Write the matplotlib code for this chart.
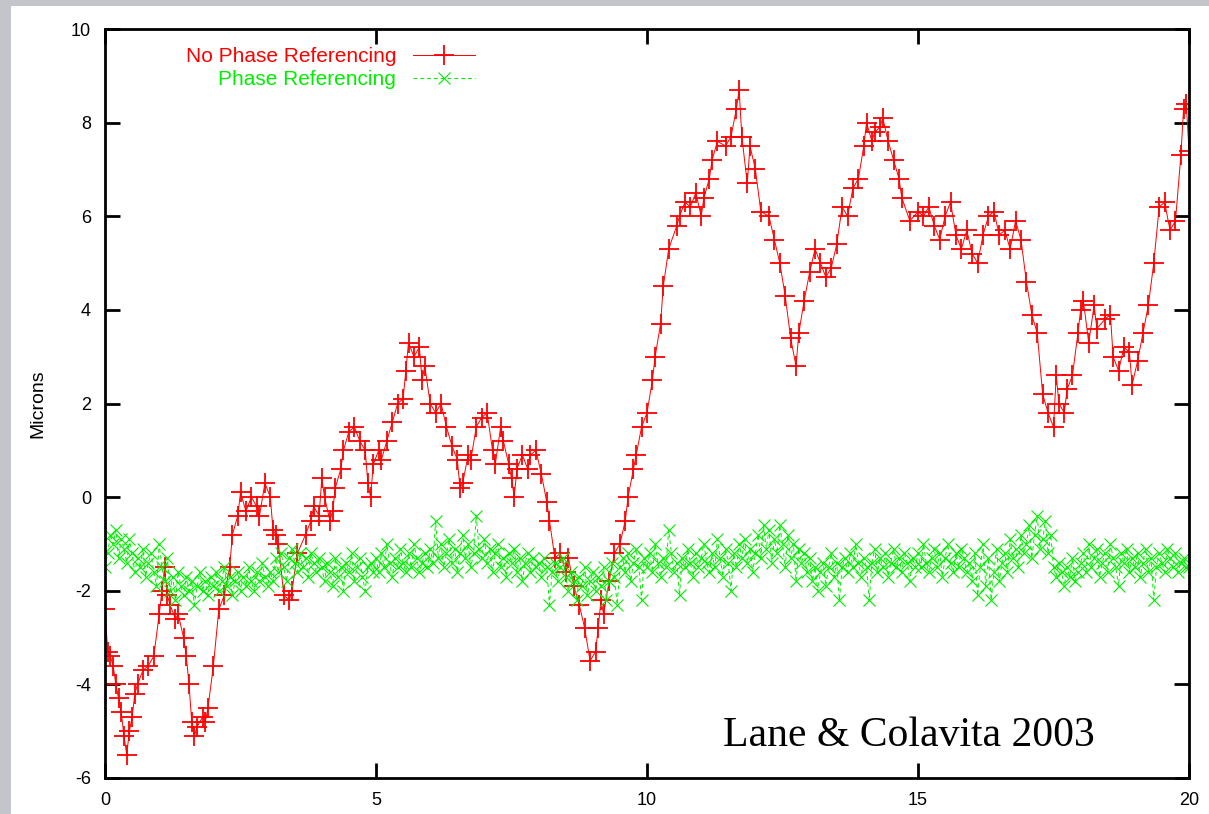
import matplotlib.pyplot as plt
import numpy as np
from matplotlib.patches import Rectangle

plt.rcParams['font.family'] = ['Liberation Sans Narrow', 'Liberation Sans', 'DejaVu Sans']
plt.rcParams['axes.unicode_minus'] = False

# red: no phase referencing (time, microns)
red_t = [0.0, 0.05, 0.1, 0.15, 0.2, 0.25, 0.3, 0.35, 0.4, 0.45, 0.5, 0.55, 0.6, 0.7, 0.8, 0.9,
         1.0, 1.05, 1.1, 1.15, 1.2, 1.3, 1.35, 1.45, 1.5, 1.55, 1.6, 1.65, 1.7, 1.8, 1.85, 1.9,
         2.0, 2.1, 2.2, 2.3, 2.35, 2.45, 2.5, 2.6, 2.7, 2.8, 2.85, 2.95, 3.05, 3.1, 3.15, 3.2,
         3.3, 3.4, 3.45, 3.55, 3.7, 3.8, 3.85, 3.95, 4.0, 4.05, 4.15, 4.2, 4.25, 4.35, 4.4, 4.5,
         4.6, 4.7, 4.8, 4.85, 4.9, 4.95, 5.05, 5.1, 5.2, 5.3, 5.4, 5.5, 5.55, 5.6, 5.7, 5.8,
         5.85, 5.9, 6.0, 6.1, 6.2, 6.3, 6.4, 6.5, 6.55, 6.6, 6.7, 6.75, 6.85, 6.95, 7.05, 7.15,
         7.2, 7.3, 7.35, 7.45, 7.5, 7.55, 7.6, 7.7, 7.8, 7.85, 7.95, 8.05, 8.15, 8.2, 8.3, 8.4,
         8.5, 8.55, 8.65, 8.75, 8.85, 8.95, 9.05, 9.1, 9.15, 9.2, 9.3, 9.4, 9.5, 9.6, 9.65, 9.75,
         9.8, 9.9, 10.0, 10.1, 10.15, 10.25, 10.3, 10.4, 10.55, 10.6, 10.7, 10.8, 10.9, 11.0, 11.05, 11.15,
         11.2, 11.3, 11.45, 11.55, 11.65, 11.7, 11.75, 11.85, 11.9, 12.0, 12.1, 12.25, 12.35, 12.45, 12.55, 12.65,
         12.75, 12.8, 12.9, 13.0, 13.1, 13.2, 13.3, 13.4, 13.5, 13.6, 13.7, 13.8, 13.9, 14.0, 14.05, 14.15,
         14.2, 14.3, 14.35, 14.45, 14.55, 14.65, 14.7, 14.85, 15.0, 15.1, 15.2, 15.3, 15.4, 15.5, 15.6, 15.7,
         15.8, 15.9, 16.0, 16.1, 16.2, 16.3, 16.4, 16.5, 16.6, 16.7, 16.8, 16.9, 17.0, 17.1, 17.2, 17.3,
         17.4, 17.5, 17.55, 17.6, 17.7, 17.75, 17.85, 17.95, 18.0, 18.05, 18.15, 18.25, 18.3, 18.45, 18.55, 18.6,
         18.7, 18.8, 18.9, 18.95, 19.05, 19.15, 19.25, 19.35, 19.45, 19.55, 19.65, 19.75, 19.85, 19.9, 19.95, 20.0]
red_y = [-2.4, -3.3, -3.4, -3.6, -4.0, -4.3, -4.6, -5.1, -5.5, -5.0, -4.7, -4.2, -4.0, -3.7, -3.6, -3.4,
         -2.5, -2.0, -1.5, -2.1, -2.3, -2.6, -2.5, -3.0, -3.4, -4.0, -4.8, -5.1, -4.9, -4.7, -4.8, -4.5,
         -3.6, -2.4, -2.1, -1.5, -0.8, -0.4, 0.1, -0.3, 0.0, -0.2, -0.4, 0.3, 0.0, -0.7, -0.8, -1.0,
         -2.1, -2.2, -2.0, -1.2, -0.8, -0.5, -0.2, -0.4, 0.4, 0.0, -0.5, -0.3, 0.2, 0.6, 1.0, 1.4,
         1.5, 1.2, 1.0, 0.3, 0.0, 0.7, 1.0, 0.8, 1.2, 1.6, 2.0, 2.1, 2.7, 3.3, 3.0, 3.2,
         2.5, 2.8, 2.0, 1.8, 2.0, 1.5, 1.1, 0.8, 0.2, 0.3, 0.9, 0.8, 1.5, 1.7, 1.8, 1.0,
         0.7, 1.5, 1.2, 0.7, 0.4, 0.0, 0.6, 0.9, 0.6, 0.9, 1.0, 0.5, -0.1, -0.5, -1.3, -1.2,
         -1.6, -1.3, -1.9, -2.3, -2.8, -3.5, -3.3, -2.8, -2.2, -2.5, -1.8, -1.2, -1.0, -0.5, 0.0, 0.6,
         0.9, 1.5, 1.8, 2.5, 3.0, 3.7, 4.5, 5.3, 5.8, 6.0, 6.3, 6.2, 6.5, 6.0, 6.4, 6.8,
         7.2, 7.6, 7.5, 7.7, 8.3, 8.7, 7.7, 6.7, 7.5, 7.0, 6.1, 6.0, 5.5, 5.0, 4.3, 3.4,
         2.8, 3.5, 4.2, 4.8, 5.3, 5.0, 4.7, 4.9, 5.4, 6.2, 6.0, 6.6, 6.8, 7.5, 8.0, 7.6,
         7.8, 7.9, 8.1, 7.6, 7.2, 6.8, 6.4, 5.9, 6.1, 6.0, 6.2, 5.8, 5.5, 6.0, 6.3, 5.6,
         5.3, 5.7, 5.2, 5.0, 5.6, 6.0, 6.1, 5.6, 5.7, 5.3, 5.9, 5.5, 4.6, 3.9, 3.5, 2.2,
         1.8, 1.5, 2.6, 2.0, 1.8, 2.3, 2.6, 3.5, 4.0, 4.2, 3.3, 4.1, 3.6, 3.8, 3.9, 3.0,
         2.7, 3.2, 3.1, 2.4, 2.9, 3.5, 4.1, 5.0, 6.2, 6.3, 5.7, 5.9, 7.3, 8.3, 8.4, 7.4]

# green: phase referencing, sampled every 0.05
green_y = [
    -1.5, -1.2, -0.8, -1.0, -0.7, -1.3, -0.9, -1.1, -1.4, -0.9, -1.2, -1.6, -1.3, -1.5, -1.1, -1.7, -1.4, -1.2, -1.6, -1.9,
    -1.0, -1.5, -1.8, -1.3, -2.0, -1.7, -2.2, -1.6, -1.9, -2.1, -1.7, -2.0, -1.8, -2.3, -1.9, -1.6, -2.0, -1.8, -2.1, -1.7,
    -1.9, -1.6, -2.0, -1.8, -1.5, -1.9, -1.7, -2.1, -1.8, -1.6, -2.0, -1.7, -1.9, -1.5, -1.8, -2.0, -1.6, -1.8, -1.4, -1.7,
    -1.9, -1.6, -1.8, -1.3, -1.6, -1.2, -1.5, -1.8, -1.3, -1.1, -1.4, -1.6, -1.2, -1.5, -1.3, -1.7, -1.2, -1.4, -1.6, -1.3,
    -1.5, -1.8, -1.4, -1.6, -1.9, -1.3, -1.7, -1.5, -2.0, -1.4, -1.6, -1.2, -1.8, -1.5, -1.3, -1.7, -2.0, -1.5, -1.4, -1.6,
    -1.3, -1.6, -1.2, -1.5, -1.0, -1.4, -1.7, -1.3, -1.5, -1.1, -1.4, -1.6, -1.2, -1.5, -1.0, -1.3, -1.6, -1.4, -1.2, -1.5,
    -1.1, -1.4, -0.5, -1.3, -1.0, -1.5, -1.2, -0.9, -1.4, -1.1, -1.6, -1.2, -0.8, -1.3, -1.0, -1.5, -1.2, -0.4, -1.1, -1.3,
    -0.9, -1.4, -1.1, -1.6, -1.2, -1.0, -1.5, -1.3, -1.7, -1.2, -1.4, -1.1, -1.6, -1.3, -1.8, -1.4, -1.2, -1.6, -1.3, -1.5,
    -1.4, -1.7, -1.3, -1.5, -2.3, -1.6, -1.4, -1.8, -1.5, -1.3, -1.7, -2.0, -1.6, -1.8, -2.2, -1.7, -1.9, -1.5, -2.1, -1.8,
    -1.6, -2.0, -1.7, -1.9, -1.5, -2.2, -1.8, -1.4, -1.7, -2.3, -1.5, -1.3, -1.6, -1.2, -1.8, -1.4, -1.1, -1.5, -2.2, -1.3,
    -1.5, -1.2, -1.6, -1.0, -1.4, -1.7, -1.3, -1.5, -0.7, -1.2, -1.6, -1.4, -2.1, -1.3, -1.5, -1.1, -1.4, -1.7, -1.2, -1.5,
    -1.3, -1.0, -1.4, -1.6, -1.2, -1.5, -0.9, -1.3, -1.7, -1.1, -1.4, -2.0, -1.2, -1.5, -1.0, -1.3, -0.9, -1.4, -1.1, -1.6,
    -1.2, -0.8, -1.3, -0.6, -1.1, -0.7, -1.4, -0.9, -1.2, -0.6, -1.0, -1.5, -0.8, -1.3, -1.0, -1.8, -1.1, -1.4, -1.2, -1.6,
    -1.3, -1.8, -1.5, -2.0, -1.6, -1.4, -1.9, -1.5, -1.2, -1.7, -1.4, -2.2, -1.5, -1.3, -1.6, -1.2, -1.5, -1.0, -1.4, -1.7,
    -1.3, -1.5, -2.2, -1.4, -1.1, -1.6, -1.3, -1.5, -1.2, -1.7, -1.4, -1.1, -1.5, -1.3, -1.6, -1.2, -1.4, -1.8, -1.3, -1.5,
    -1.2, -1.5, -1.0, -1.4, -1.6, -1.3, -1.1, -1.5, -1.2, -1.7, -1.3, -1.0, -1.4, -1.6, -1.2, -1.5, -1.1, -1.3, -1.6, -1.4,
    -1.8, -1.2, -2.1, -1.5, -1.0, -1.9, -1.3, -2.2, -1.6, -1.1, -1.8, -1.4, -1.2, -1.6, -0.9, -1.3, -1.1, -1.5, -0.8, -1.2,
    -1.0, -0.6, -1.3, -0.8, -0.4, -1.1, -0.9, -0.5, -1.2, -0.8, -1.5, -1.7, -1.4, -1.6, -1.9, -1.5, -1.7, -1.3, -1.8, -1.6,
    -1.4, -1.2, -1.6, -1.0, -1.5, -1.3, -1.1, -1.7, -1.4, -1.2, -1.6, -1.0, -1.3, -1.5, -1.9, -1.2, -1.4, -1.1, -1.6, -1.3,
    -1.5, -1.2, -1.7, -1.4, -1.1, -1.6, -1.3, -2.2, -1.5, -1.2, -1.4, -1.6, -1.1, -1.3, -1.5, -1.2, -1.6, -1.4, -1.3, -1.5,
    -1.5]
green_t = np.linspace(0, 20, len(green_y))

fig = plt.figure(figsize=(12.09, 8.14), dpi=100, facecolor='#c3c5cb')
fig.patches.append(Rectangle((11 / 1209, 0), 1, 1 - 6 / 814, transform=fig.transFigure,
                             facecolor='white', edgecolor='none', zorder=-10))
ax = fig.add_axes([105 / 1209, 1 - 778 / 814, 1084 / 1209, 749 / 814])

ax.plot(red_t, red_y, color='#ff0000', lw=0.7, marker='+', ms=14, mew=1.3,
        label='No Phase Referencing')
ax.plot(green_t, green_y, color='#00ee00', lw=0.7, ls=(0, (4, 3)), marker='x', ms=8, mew=0.8,
        label='Phase Referencing')

ax.set_xlim(0, 20)
ax.set_ylim(-6, 10)
ax.set_xticks([0, 5, 10, 15, 20])
ax.set_yticks(range(-6, 11, 2))
ax.tick_params(direction='in', length=11, width=2, top=True, right=True, labelsize=13, pad=10)
for s in ax.spines.values():
    s.set_linewidth(2)
ax.set_ylabel('Microns', fontsize=14, labelpad=18)

leg = ax.legend(loc='upper right', bbox_to_anchor=(0.355, 0.995), frameon=False, markerfirst=False,
                handlelength=3.0, labelspacing=0.2, borderpad=0.2,
                prop={'family': 'Liberation Sans', 'size': 15},
                labelcolor=['#ff0000', '#00ee00'])

ax.text(0.913, 0.056, 'Lane & Colavita 2003', transform=ax.transAxes, ha='right', va='center',
        fontsize=30, family='Liberation Serif')

fig.savefig('out.png', dpi=100, facecolor=fig.get_facecolor())
